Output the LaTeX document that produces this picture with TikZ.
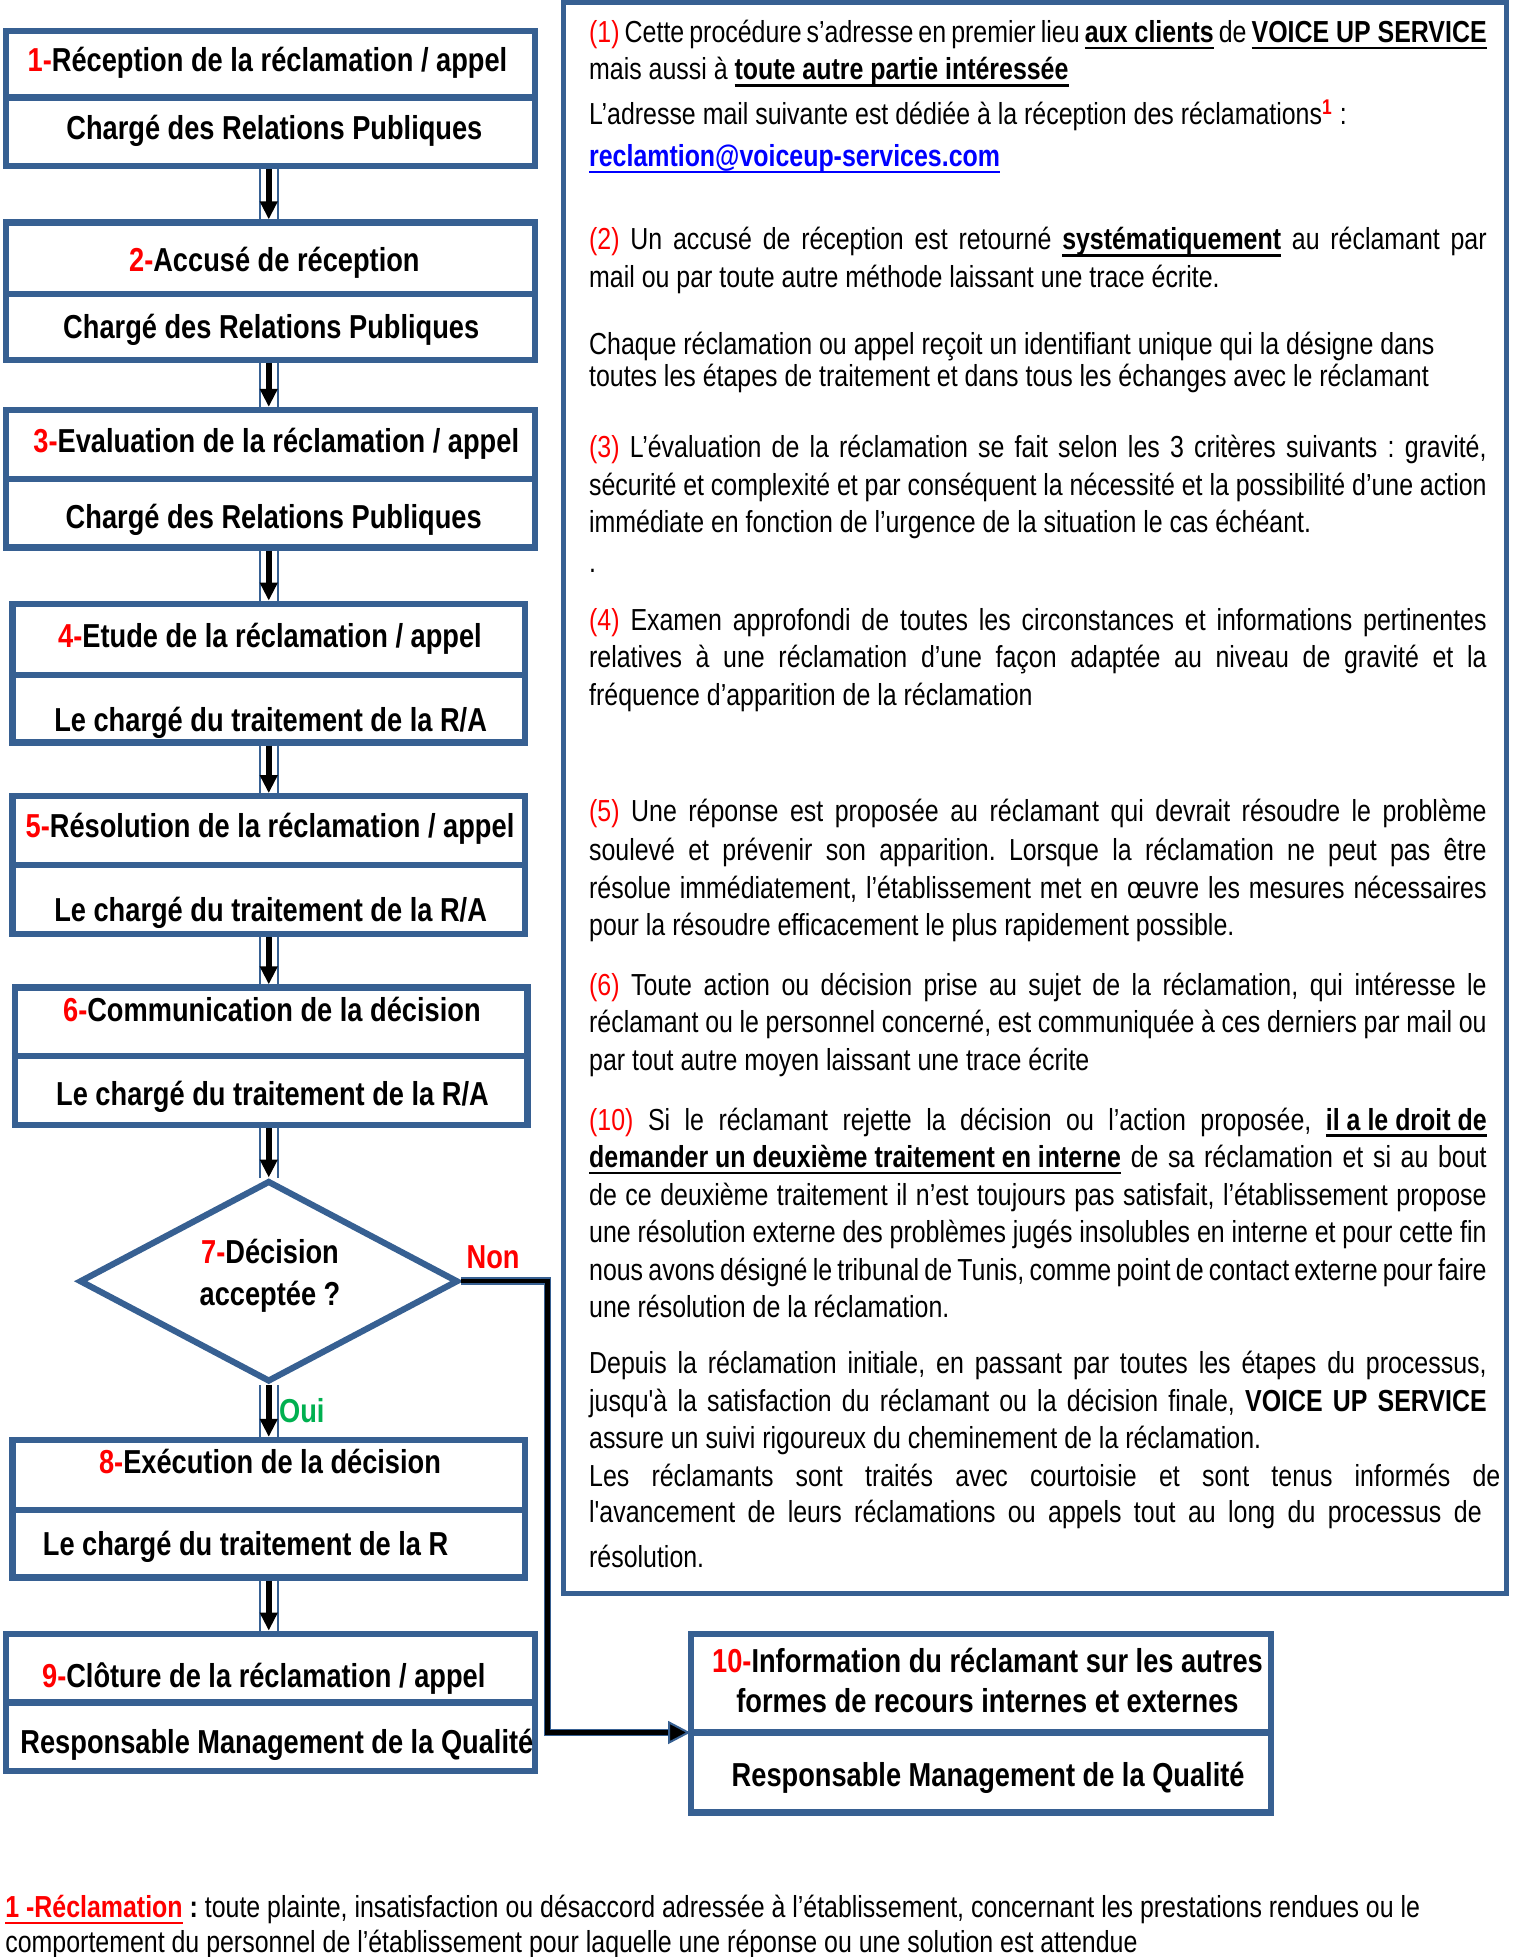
\documentclass[tikz,border=0pt]{standalone}
\usepackage{fontspec}
\setmainfont[FakeStretch=0.82]{Liberation Sans}
\newfontfamily\nomap[FakeStretch=0.82]{Liberation Sans}
\usetikzlibrary{shapes.geometric,arrows.meta,fit}
\definecolor{bblue}{RGB}{55,96,146}
\definecolor{rred}{RGB}{255,0,0}
\definecolor{ggreen}{RGB}{0,176,80}
\definecolor{lblue}{RGB}{0,0,255}
\frenchspacing
\newcommand\UL[1]{{\setbox0\hbox{#1}\rlap{\vrule height -2.2pt depth 3.3pt width \wd0}\box0}}
\newcommand\sq{{\nomap'}}
\newlength\pw \setlength\pw{448.75pt}
\newcommand\J[1]{\hbox to \pw{#1}}
\newcommand\JW[2]{\hbox to #1{#2}}
\newcommand\R[1]{\textcolor{rred}{#1}}
\newcommand\bodyfont{\fontsize{15.2pt}{18.75pt}\selectfont}
\newcommand\ttlfont{\fontsize{16.6pt}{20pt}\selectfont\bfseries}
\begin{document}
\begin{tikzpicture}[x=0.625pt,y=-0.625pt,
  boxst/.style={draw=bblue,line width=3.1pt,inner sep=0pt},
  divline/.style={draw=bblue,line width=3.1pt},
  panelst/.style={draw=bblue,line width=2.6pt,inner sep=0pt},
  ttl/.style={font=\ttlfont,anchor=base,inner sep=0pt},
  txt/.style={font=\bodyfont,anchor=base west,inner sep=0pt},
  blueout/.style={draw=bblue,line width=1.1pt,double=white,double distance=8pt},
  blackarr/.style={draw=black,line width=2.8pt,-{Triangle[length=9pt,width=8.4pt]}},
  nonback/.style={draw=bblue,line width=3.8pt},
  nonfront/.style={draw=black,line width=2.2pt}]
\useasboundingbox (0,0) rectangle (1209.6,1565.6);
\newcommand\flowarrow[2]{\draw[blueout] (#1) -- (#2); \draw[blackarr] (#1) -- (#2);}
\newcommand\TL[3]{\node[txt] (#1) at (471,#2) {#3};}
\coordinate (ax) at (215,0);
% ---------- left boxes
\node[boxst,fit={(5,25)(428,133)}] (b1) {};
\draw[divline] (b1.west |- 0,78) -- (b1.east |- 0,78);
\node[boxst,fit={(5,178)(428,288)}] (b2) {};
\draw[divline] (b2.west |- 0,235) -- (b2.east |- 0,235);
\node[boxst,fit={(5,328)(428,438)}] (b3) {};
\draw[divline] (b3.west |- 0,383) -- (b3.east |- 0,383);
\node[boxst,fit={(10,483)(420,594)}] (b4) {};
\draw[divline] (b4.west |- 0,540) -- (b4.east |- 0,540);
\node[boxst,fit={(10,637)(420,747)}] (b5) {};
\draw[divline] (b5.west |- 0,692) -- (b5.east |- 0,692);
\node[boxst,fit={(12,790)(422,900)}] (b6) {};
\draw[divline] (b6.west |- 0,845) -- (b6.east |- 0,845);
\node[diamond,draw=bblue,line width=3.1pt,inner sep=0pt,minimum width=189.4pt,minimum height=100.6pt] (d7) at (215,1025) {};
\node[boxst,fit={(10,1152)(420,1262)}] (b8) {};
\draw[divline] (b8.west |- 0,1208) -- (b8.east |- 0,1208);
\node[boxst,fit={(5,1307)(428,1417)}] (b9) {};
\draw[divline] (b9.west |- 0,1362) -- (b9.east |- 0,1362);
\node[boxst,fit={(553,1307)(1017,1450)}] (b10) {};
\draw[divline] (b10.west |- 0,1386) -- (b10.east |- 0,1386);
% ---------- box texts
\node[ttl] (t1a) at (214,57) {\R{1-}Réception de la réclamation / appel};
\node[ttl] (t1b) at (219.5,112) {Chargé des Relations Publiques};
\node[ttl] (t2a) at (219.5,217) {\R{2-}Accusé de réception};
\node[ttl] (t2b) at (217,271) {Chargé des Relations Publiques};
\node[ttl] (t3a) at (221,362) {\R{3-}Evaluation de la réclamation / appel};
\node[ttl] (t3b) at (219,423) {Chargé des Relations Publiques};
\node[ttl] (t4a) at (216,518) {\R{4-}Etude de la réclamation / appel};
\node[ttl] (t4b) at (216.5,585) {Le chargé du traitement de la R/A};
\node[ttl] (t5a) at (216,670) {\R{5-}Résolution de la réclamation / appel};
\node[ttl] (t5b) at (216.5,737) {Le chargé du traitement de la R/A};
\node[ttl] (t6a) at (217.5,817) {\R{6-}Communication de la décision};
\node[ttl] (t6b) at (218,884) {Le chargé du traitement de la R/A};
\node[ttl] (t7a) at (216,1011) {\R{7-}Décision};
\node[ttl] (t7b) at (216,1044) {acceptée ?};
\node[ttl] (t8a) at (216,1179) {\R{8-}Exécution de la décision};
\node[ttl] (t8b) at (196.5,1244) {Le chargé du traitement de la R};
\node[ttl] (t9a) at (211,1350) {\R{9-}Clôture de la réclamation / appel};
\node[ttl] (t9b) at (221.5,1403) {Responsable Management de la Qualité};
\node[ttl] (t10a) at (790,1338) {\R{10-}Information du réclamant sur les autres};
\node[ttl] (t10b) at (790,1370) {formes de recours internes et externes};
\node[ttl] (t10c) at (790.5,1429) {Responsable Management de la Qualité};
\node[ttl,anchor=base west,text=ggreen] (oui) at (223,1138) {Oui};
\node[ttl,text=rred] (non) at (394.5,1015) {Non};
% ---------- connectors
\flowarrow{b1.south -| ax}{b2.north -| ax}
\flowarrow{b2.south -| ax}{b3.north -| ax}
\flowarrow{b3.south -| ax}{b4.north -| ax}
\flowarrow{b4.south -| ax}{b5.north -| ax}
\flowarrow{b5.south -| ax}{b6.north -| ax}
\flowarrow{b6.south -| ax}{d7.north}
\flowarrow{d7.south}{b8.north -| ax}
\flowarrow{b8.south -| ax}{b9.north -| ax}
\coordinate (nc) at (438,1386);
\draw[nonback,line join=miter] (d7.east) -| (nc) -- ([xshift=-9pt]nc -| b10.west);
\draw[nonfront,line join=miter] (d7.east) -| (nc) -- ([xshift=-9pt]nc -| b10.west);
\draw[draw=bblue,line width=1pt,fill=black] ([xshift=-9.5pt,yshift=5pt]nc -| b10.west) -- (nc -| b10.west) -- ([xshift=-9.5pt,yshift=-5pt]nc -| b10.west) -- cycle;
% ---------- right panel
\node[panelst,fit={(451,2)(1205,1275)}] (panel) {};
\TL{p1}{34}{\J{\R{(1)} Cette procédure s’adresse en premier lieu \textbf{\UL{aux clients}} de \textbf{\UL{VOICE UP SERVICE}}}}
\TL{p2}{64}{mais aussi à \textbf{\UL{toute autre partie intéressée}}}
\TL{p3}{100}{L’adresse mail suivante est dédiée à la réception des réclamations\textsuperscript{\R{\textbf{1}}} :}
\TL{p4}{133}{\textcolor{lblue}{\textbf{\UL{reclamtion@voiceup-services.com}}}}
\TL{p5}{200}{\J{\R{(2)} Un accusé de réception est retourné \textbf{\UL{systématiquement}} au réclamant par}}
\TL{p6}{230}{mail ou par toute autre méthode laissant une trace écrite.}
\TL{p7}{284}{Chaque réclamation ou appel reçoit un identifiant unique qui la désigne dans}
\TL{p8}{309}{toutes les étapes de traitement et dans tous les échanges avec le réclamant}
\TL{p9}{366}{\J{\R{(3)} L’évaluation de la réclamation se fait selon les 3 critères suivants : gravité,}}
\TL{p10}{396}{\J{sécurité et complexité et par conséquent la nécessité et la possibilité d’une action}}
\TL{p11}{426}{immédiate en fonction de l’urgence de la situation le cas échéant.}
\TL{p12}{458}{.}
\TL{p13}{504}{\J{\R{(4)} Examen approfondi de toutes les circonstances et informations pertinentes}}
\TL{p14}{534}{\J{relatives à une réclamation d’une façon adaptée au niveau de gravité et la}}
\TL{p15}{564}{fréquence d’apparition de la réclamation}
\TL{p16}{657}{\J{\R{(5)} Une réponse est proposée au réclamant qui devrait résoudre le problème}}
\TL{p17}{688}{\J{soulevé et prévenir son apparition. Lorsque la réclamation ne peut pas être}}
\TL{p18}{719}{\J{résolue immédiatement, l’établissement met en œuvre les mesures nécessaires}}
\TL{p19}{748}{pour la résoudre efficacement le plus rapidement possible.}
\TL{p20}{796}{\J{\R{(6)} Toute action ou décision prise au sujet de la réclamation, qui intéresse le}}
\TL{p21}{826}{\J{réclamant ou le personnel concerné, est communiquée à ces derniers par mail ou}}
\TL{p22}{856}{par tout autre moyen laissant une trace écrite}
\TL{p23}{904}{\J{\R{(10)} Si le réclamant rejette la décision ou l’action proposée, \textbf{\UL{il a le droit de}}}}
\TL{p24}{934}{\J{\textbf{\UL{demander un deuxième traitement en interne}} de sa réclamation et si au bout}}
\TL{p25}{964}{\J{de ce deuxième traitement il n’est toujours pas satisfait, l’établissement propose}}
\TL{p26}{994}{\J{une résolution externe des problèmes jugés insolubles en interne et pour cette fin}}
\TL{p27}{1024}{\J{nous avons désigné le tribunal de Tunis, comme point de contact externe pour faire}}
\TL{p28}{1054}{une résolution de la réclamation.}
\TL{p29}{1099}{\J{Depuis la réclamation initiale, en passant par toutes les étapes du processus,}}
\TL{p30}{1129}{\J{jusqu\sq à la satisfaction du réclamant ou la décision finale, \textbf{VOICE UP SERVICE}}}
\TL{p31}{1159}{assure un suivi rigoureux du cheminement de la réclamation.}
\TL{p32}{1189}{\JW{455.6pt}{Les réclamants sont traités avec courtoisie et sont tenus informés de}}
\TL{p33}{1218}{\JW{446.3pt}{l\sq avancement de leurs réclamations ou appels tout au long du processus de}}
\TL{p34}{1254}{résolution.}
% ---------- footnote
\node[txt] (f1) at (4,1534) {\textbf{\textcolor{rred}{\UL{1 -Réclamation}}} \textbf{:} toute plainte, insatisfaction ou désaccord adressée à l’établissement, concernant les prestations rendues ou le};
\node[txt] (f2) at (4,1562) {comportement du personnel de l’établissement pour laquelle une réponse ou une solution est attendue};
\end{tikzpicture}
\end{document}
